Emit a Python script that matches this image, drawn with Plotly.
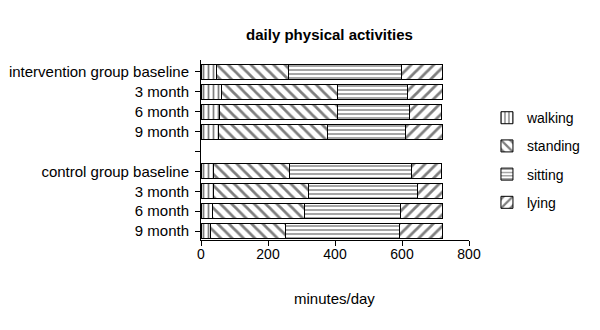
import plotly.graph_objects as go

rows = ["intervention group baseline", "3 month", "6 month", "9 month", "",
        "control group baseline", "3 month", "6 month", "9 month"]
walking = [45, 60, 56, 53, None, 38, 38, 33, 28]
standing = [217, 348, 352, 325, None, 225, 284, 277, 223]
sitting = [336, 207, 215, 232, None, 365, 323, 286, 343]
lying = [124, 107, 94, 112, None, 90, 77, 124, 126]
x_ticks = [0, 200, 400, 600, 800]

ypos = list(range(len(rows)))

series = [("walking", walking, "|", 5, 0.35),
          ("standing", standing, "\\", 8, 0.35),
          ("sitting", sitting, "-", 4, 0.35),
          ("lying", lying, "/", 8, 0.35)]

FONT = "Liberation Sans, Arial, sans-serif"
fig = go.Figure()
for name, vals, shape, size, sol in series:
    fig.add_trace(go.Bar(
        x=vals, y=ypos, name=name, orientation="h", width=0.75,
        legendgroup=name,
        marker=dict(color="white", line=dict(color="black", width=1),
                    pattern=dict(shape=shape, fgcolor="black", bgcolor="white",
                                 size=size, solidity=sol)),
    ))

fig.update_layout(
    width=600, height=330,
    margin=dict(l=193, r=139, t=52, b=98, autoexpand=False),
    barmode="stack",
    plot_bgcolor="white", paper_bgcolor="white",
    font=dict(family=FONT, size=15, color="black"),
    title=dict(text="<b>daily physical activities</b>", x=321.5/600, xanchor="center",
               y=1-27/330, yanchor="middle", font=dict(size=15, family=FONT),
               automargin=False),
    showlegend=True,
    legend=dict(x=1.067, xanchor="left", y=0.766, yanchor="top",
                traceorder="grouped", tracegroupgap=7,
                font=dict(size=14, family=FONT), bgcolor="rgba(0,0,0,0)"),
    xaxis=dict(range=[0, 800], tickvals=x_ticks, ticks="outside", ticklen=5,
               showgrid=False, zeroline=False, showline=True, linecolor="black",
               linewidth=1, tickcolor="black", tickfont=dict(size=14),
               automargin=False, ticklabelstandoff=-4),
    yaxis=dict(range=[8.45, -0.6], tickvals=ypos, ticktext=rows, ticks="outside",
               ticklen=5, showgrid=False, zeroline=False, showline=True,
               linecolor="black", linewidth=1, tickcolor="black",
               tickfont=dict(size=15), automargin=False, ticklabelstandoff=3),
    annotations=[dict(text="minutes/day", x=0.498, y=-0.325, xref="paper", yref="paper",
                      showarrow=False, font=dict(size=15, family=FONT),
                      xanchor="center", yanchor="middle")],
)

fig.write_html("out.html")
